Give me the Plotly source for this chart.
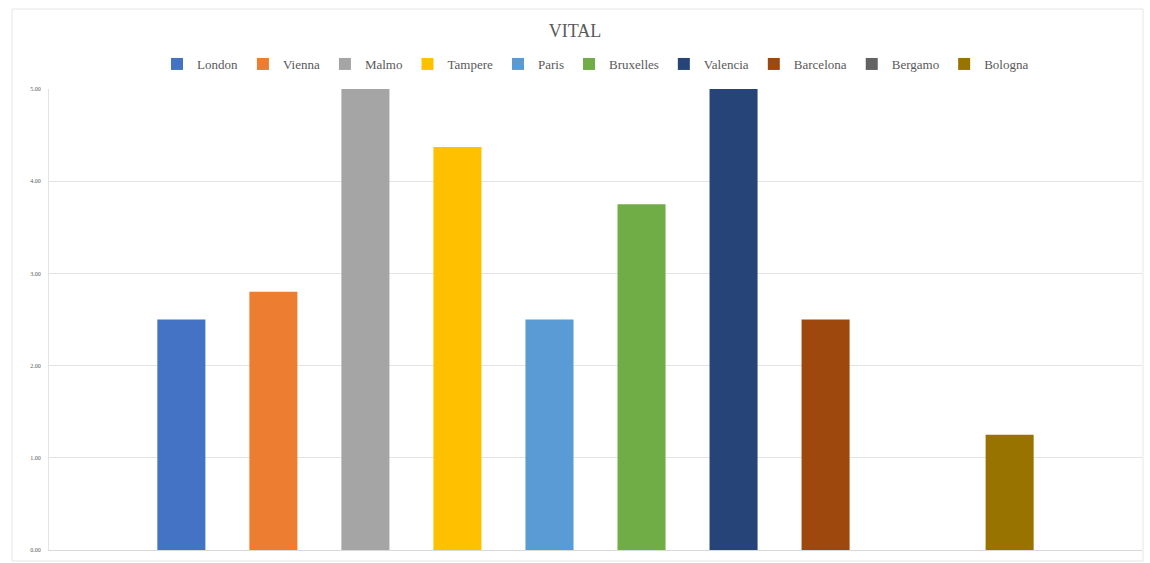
import plotly.graph_objects as go

# City scores for the VITAL indicator
cities = ["London", "Vienna", "Malmo", "Tampere", "Paris",
          "Bruxelles", "Valencia", "Barcelona", "Bergamo", "Bologna"]
scores = [2.50, 2.80, 5.00, 4.37, 2.50, 3.75, 5.00, 2.50, 0.00, 1.25]
colors = ["#4472C4", "#ED7D31", "#A5A5A5", "#FFC000", "#5B9BD5",
          "#70AD47", "#264478", "#9E480E", "#636363", "#997300"]
y_ticks = [0, 1, 2, 3, 4, 5]
y_tick_text = ["0.00", "1.00", "2.00", "3.00", "4.00", "5.00"]

fig = go.Figure()
for name, val, col in zip(cities, scores, colors):
    fig.add_trace(go.Bar(x=["VITAL"], y=[val], name=name,
                         marker=dict(color=col, line=dict(width=0))))

W, H = 1150, 563
ml, mr, mt, mb = 49, 8, 89, 13

fig.update_layout(
    width=W, height=H,
    margin=dict(l=ml, r=mr, t=mt, b=mb),
    paper_bgcolor="white", plot_bgcolor="white",
    barmode="group", bargap=0.158, bargroupgap=0.478,
    title=dict(text="VITAL", x=0.5, xanchor="center", y=1 - 31 / H, yanchor="middle",
               font=dict(family="Liberation Serif", size=18, color="#595959")),
    legend=dict(orientation="h", x=0.5, xanchor="center", y=1 + 25 / (H - mt - mb),
                yanchor="middle", font=dict(family="Liberation Serif", size=13, color="#595959"),
                itemwidth=30, traceorder="normal", itemclick=False),
    xaxis=dict(showticklabels=False, showgrid=False, zeroline=False,
               showline=True, linecolor="#D9D9D9", linewidth=1, ticks=""),
    yaxis=dict(range=[0, 5], tickvals=y_ticks, ticktext=y_tick_text,
               showgrid=True, gridcolor="#E3E3E3", gridwidth=1, zeroline=False,
               showline=True, linecolor="#E3E3E3",
               tickfont=dict(family="Liberation Serif", size=6, color="#595959"),
               ticks="", ticklabelstandoff=6),
    showlegend=True,
)

# light frame around the chart area
fig.add_shape(type="rect", xref="paper", yref="paper",
              x0=(12 - ml) / (W - ml - mr), x1=(1143 - ml) / (W - ml - mr),
              y0=-(561 - (H - mb)) / (H - mt - mb), y1=1 + (mt - 9) / (H - mt - mb),
              line=dict(color="#E6E6E6", width=1), layer="below")

fig.write_html("out.html")
